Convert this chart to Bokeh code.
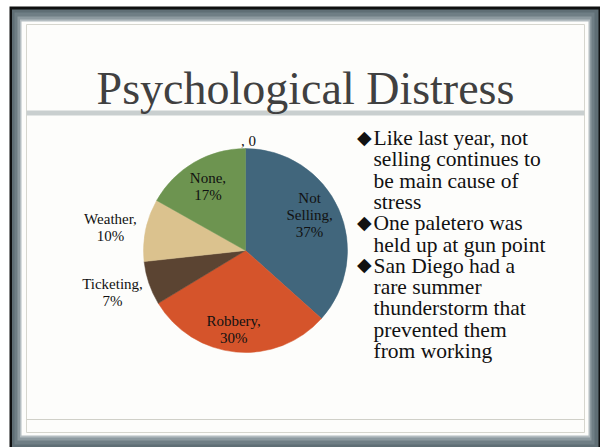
import numpy as np
from bokeh.plotting import figure
from bokeh.models import Range1d, ColumnDataSource
from bokeh.core.properties import value
from bokeh.embed import file_html
from bokeh.resources import INLINE

# ---- data ----
categories = ["Not Selling", "Robbery", "Ticketing", "Weather", "None", ""]
values = [37, 30, 7, 10, 17, 0]
slice_colors = ["#41667c", "#d5542b", "#5b4432", "#dbc28e", "#6d9450", "#ffffff"]
label_lines = [["Not", "Selling,", "37%"], ["Robbery,", "30%"], ["Ticketing,", "7%"],
               ["Weather,", "10%"], ["None,", "17%"], [", 0"]]
label_radius = [0.716, 0.783, 1.369, 1.342, 0.73, 1.07]
label_turn = [-4.6, 3.2, 1.0, -2.1, 0.0, 0.0]

title = "Psychological Distress"
bullets = [
    ["Like last year, not", "selling continues to", "be main cause of", "stress"],
    ["One paletero was", "held up at gun point"],
    ["San Diego had a", "rare summer", "thunderstorm that", "prevented them", "from working"],
]

W, H = 600, 447
p = figure(width=W, height=H, output_backend="svg", toolbar_location=None,
           x_range=Range1d(0, W), y_range=Range1d(0, H), min_border=0,
           x_axis_location=None, y_axis_location=None)
p.grid.visible = False
p.outline_line_color = None
p.background_fill_color = "#ffffff"
p.border_fill_color = "#ffffff"

FONT = value("Liberation Serif")

def X(x):
    return x

def Y(y):
    return H - y

def box(l, t, r, b, color, line=None, lw=1):
    p.quad(left=X(l), right=X(r), top=Y(t), bottom=Y(b),
           fill_color=color if color else None, fill_alpha=1 if color else 0,
           line_color=line, line_width=lw)

# slide frame
box(9, 6, 600, 447, "#0f1011")
box(11.5, 9, 598, 447, "#5f6e75")
box(14, 12, 594, 444, "#6f7e85")
box(17, 16, 591, 440, "#8d9aa0")
box(19.5, 19, 589.5, 437, "#b3bcc0")
box(21, 21, 588, 435, "#fdfdfb")
box(26, 24, 584, 432, None, line="#d6d6ce", lw=1)
box(26, 110, 584, 115, "#c9cfcf")
p.segment(x0=X(26), x1=X(584), y0=Y(419), y1=Y(419), line_color="#d0d0c8", line_width=1)

# title
p.text(x=[X(305)], y=[Y(88)], text=[title], text_font=FONT,
       text_font_size="46px", text_align="center", text_baseline="alphabetic",
       text_color="#404040")

# pie
cx, cy, R = X(245), Y(250), 102
vals = np.array(values, dtype=float)
frac = vals / vals.sum()
cum_end = np.cumsum(frac)
cum_start = cum_end - frac
start_angle = np.pi / 2 - 2 * np.pi * cum_start
end_angle = np.pi / 2 - 2 * np.pi * cum_end
mask = vals > 0
src = ColumnDataSource(dict(start=start_angle[mask], end=end_angle[mask],
                            color=[c for c, m in zip(slice_colors, mask) if m]))
p.wedge(x=cx, y=cy, radius=R, start_angle="start", end_angle="end",
        direction="clock", fill_color="color", line_color="color", line_width=0.5,
        source=src)

# labels
lh = 17
lx, ly, lt = [], [], []
for i, lines in enumerate(label_lines):
    mid = 2 * np.pi * (cum_start[i] + frac[i] / 2) + np.radians(label_turn[i])
    r = label_radius[i] * R
    px = cx + r * np.sin(mid)
    py = cy + r * np.cos(mid)
    n = len(lines)
    for j, s in enumerate(lines):
        lx.append(px + (3 if s == ", 0" else 0))
        ly.append(py + (n - 1) / 2 * lh - j * lh)
        lt.append(s)
p.text(x=lx, y=ly, text=lt, text_font=FONT, text_font_size="15px",
       text_align="center", text_baseline="middle", text_color="#111111")

# bullets
bx, by, bt, dx, dy = [], [], [], [], []
k = 0
for para in bullets:
    for j, s in enumerate(para):
        yb = 137.5 + 21.3 * k
        if j == 0:
            dx.append(X(356)); dy.append(Y(yb - 1))
        bx.append(X(373)); by.append(Y(yb)); bt.append(s)
        k += 1
p.text(x=bx, y=by, text=bt, text_font=FONT, text_font_size="21.5px",
       text_align="left", text_baseline="alphabetic", text_color="#111111")
p.text(x=dx, y=dy, text=["\u25c6"] * len(dx), text_font=FONT,
       text_font_size="19px", text_align="left", text_baseline="alphabetic",
       text_color="#111111")

open("out.html", "w").write(file_html(p, INLINE))
